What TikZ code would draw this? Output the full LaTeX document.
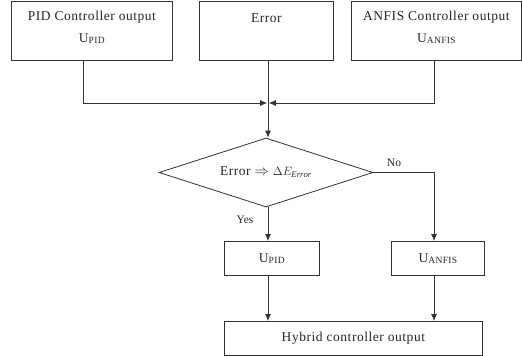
\documentclass[tikz,border=0pt]{standalone}
\usepackage{fontspec}
\setmainfont{Liberation Serif}
\usetikzlibrary{shapes.geometric,arrows.meta,calc}

\newcommand{\usub}[1]{U\raisebox{-1.2pt}{\fontsize{9.5}{9.5}\selectfont #1}}

\tikzset{
	box/.style={draw=black!80, line width=0.8pt, rectangle, inner sep=0pt, align=center},
	arr/.style={draw=black!80, line width=0.8pt, -{Latex[length=7pt,width=6pt]}},
	lbl/.style={inner sep=1pt, font=\fontsize{11.5}{12}\selectfont}
}

\begin{document}
\begin{tikzpicture}[x=1pt, y=-1pt, font=\addfontfeature{LetterSpace=4}\fontsize{13.5}{22}\selectfont, text=black!85]
				\useasboundingbox (0,0) rectangle (522,356);

				% top row
				\node (pid) [box, minimum width=161pt, minimum height=59pt, anchor=north west] at (11,0.5) {PID Controller output\\ \usub{PID}\\[-15pt]\mbox{}};
				\node (err) [box, minimum width=134pt, minimum height=59pt, anchor=north west] at (199,0.5) {Error\\[3pt]\mbox{}};
				\node (anfis) [box, minimum width=170pt, minimum height=59pt, anchor=north west] at (351,0.5) {ANFIS Controller output\\ \usub{ANFIS}\\[-15pt]\mbox{}};

				\coordinate (join) at (268,103);
				\coordinate (lx) at (83,0);
				\coordinate (rx) at (434,0);

				% decision
				\node (dec) [draw=black!80, line width=0.8pt, diamond, aspect=3.1, inner sep=0pt, minimum width=214pt, minimum height=69pt] at (266,172.5) {Error \(\Rightarrow\) {\fontsize{12.5}{12}\selectfont\(\Delta E_{\mathit{Error}}\)}};

				% bottom row
				\node (upid) [box, minimum width=95pt, minimum height=34pt, anchor=north west] at (224,241) {\usub{PID}};
				\node (uanfis) [box, minimum width=93pt, minimum height=34pt, anchor=north west] at (391,241) {\usub{ANFIS}};
				\node (hyb) [box, minimum width=258pt, minimum height=34pt, anchor=north west] at (224,321) {Hybrid controller output};

				\draw[arr, shorten >=0.8pt] (lx |- pid.south) |- (join);
				\draw[arr, shorten >=0.8pt] (rx |- anfis.south) |- (join);
				\draw[arr] (join |- err.south) -- (join |- dec.north);

				\draw[arr] (join |- dec.south) -- (join |- upid.north);
				\draw[arr] (dec.east) -| (rx |- uanfis.north);
				\draw[arr] (join |- upid.south) -- (join |- hyb.north);
				\draw[arr] (rx |- uanfis.south) -- (rx |- hyb.north);

				\node[lbl] (no) at (394,163) {No};
				\node[lbl] (yes) at (245,220) {Yes};
\end{tikzpicture}
\end{document}
